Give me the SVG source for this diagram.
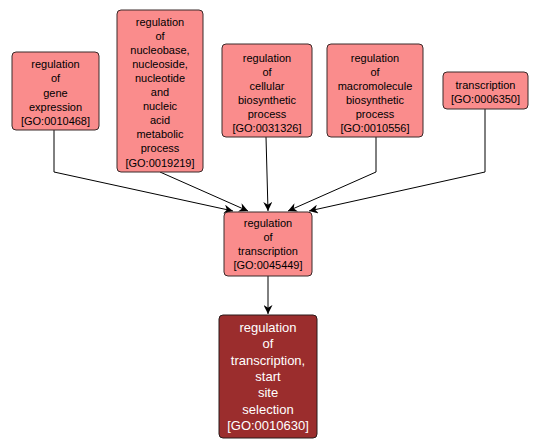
<svg xmlns="http://www.w3.org/2000/svg" width="540" height="448" viewBox="0 0 540 448">
<style>
.n rect{fill:#FA8C8C;stroke:#3a2a2a;stroke-width:1}
.n text{font-family:"Liberation Sans",Arial,sans-serif;font-size:11px;fill:#000;text-anchor:middle}
.d rect{fill:#9B2D2D;stroke:#2a1a1a;stroke-width:1}
.d text{font-family:"Liberation Sans",Arial,sans-serif;font-size:13px;fill:#fff;text-anchor:middle}
#edges path{fill:none;stroke:#000;stroke-width:1}
</style>
<defs>
<marker id="ah" viewBox="0 0 10 10" refX="10" refY="5" markerWidth="9" markerHeight="9" markerUnits="userSpaceOnUse" orient="auto">
<path d="M0,0 L10,5 L0,10 L3,5 z" fill="#000"/>
</marker>
</defs>
<rect width="540" height="448" fill="#fff"/>
<g id="edges">
<path d="M54,130 L54,172 L233,211" marker-end="url(#ah)"/>
<path d="M160,172 L248,211" marker-end="url(#ah)"/>
<path d="M266,137 L268,211" marker-end="url(#ah)"/>
<path d="M376,137 L376,172 L288,211" marker-end="url(#ah)"/>
<path d="M485,109 L485,172 L309,211" marker-end="url(#ah)"/>
<path d="M268,276 L268,314" marker-end="url(#ah)"/>
</g>
<g id="GO0010468" class="n">
<rect x="12" y="52" width="87" height="78" rx="4"/>
<text x="55.5" y="68"><tspan x="55.5">regulation</tspan><tspan x="55.5" dy="14.3">of</tspan><tspan x="55.5" dy="14.3">gene</tspan><tspan x="55.5" dy="14.3">expression</tspan><tspan x="55.5" dy="14.3">[GO:0010468]</tspan></text>
</g>
<g id="GO0019219" class="n">
<rect x="117" y="10" width="86" height="162" rx="4"/>
<text x="160" y="25.5"><tspan x="160">regulation</tspan><tspan x="160" dy="14.1">of</tspan><tspan x="160" dy="14.1">nucleobase,</tspan><tspan x="160" dy="14.1">nucleoside,</tspan><tspan x="160" dy="14.1">nucleotide</tspan><tspan x="160" dy="14.1">and</tspan><tspan x="160" dy="14.1">nucleic</tspan><tspan x="160" dy="14.1">acid</tspan><tspan x="160" dy="14.1">metabolic</tspan><tspan x="160" dy="14.1">process</tspan><tspan x="160" dy="14.1">[GO:0019219]</tspan></text>
</g>
<g id="GO0031326" class="n">
<rect x="222" y="44" width="90" height="93" rx="4"/>
<text x="267" y="62"><tspan x="267">regulation</tspan><tspan x="267" dy="14">of</tspan><tspan x="267" dy="14">cellular</tspan><tspan x="267" dy="14">biosynthetic</tspan><tspan x="267" dy="14">process</tspan><tspan x="267" dy="14">[GO:0031326]</tspan></text>
</g>
<g id="GO0010556" class="n">
<rect x="327" y="44" width="96" height="93" rx="4"/>
<text x="375" y="62"><tspan x="375">regulation</tspan><tspan x="375" dy="14">of</tspan><tspan x="375" dy="14">macromolecule</tspan><tspan x="375" dy="14">biosynthetic</tspan><tspan x="375" dy="14">process</tspan><tspan x="375" dy="14">[GO:0010556]</tspan></text>
</g>
<g id="GO0006350" class="n">
<rect x="443" y="72" width="85" height="37" rx="4"/>
<text x="485.5" y="89"><tspan x="485.5">transcription</tspan><tspan x="485.5" dy="14">[GO:0006350]</tspan></text>
</g>
<g id="GO0045449" class="n">
<rect x="224" y="212" width="88" height="64" rx="4"/>
<text x="268" y="227"><tspan x="268">regulation</tspan><tspan x="268" dy="14">of</tspan><tspan x="268" dy="14">transcription</tspan><tspan x="268" dy="14">[GO:0045449]</tspan></text>
</g>
<g id="GO0010630" class="d">
<rect x="219" y="315" width="98" height="123" rx="4"/>
<text x="268" y="332"><tspan x="268">regulation</tspan><tspan x="268" dy="16.3">of</tspan><tspan x="268" dy="16.3">transcription,</tspan><tspan x="268" dy="16.3">start</tspan><tspan x="268" dy="16.3">site</tspan><tspan x="268" dy="16.3">selection</tspan><tspan x="268" dy="16.3">[GO:0010630]</tspan></text>
</g>
</svg>
